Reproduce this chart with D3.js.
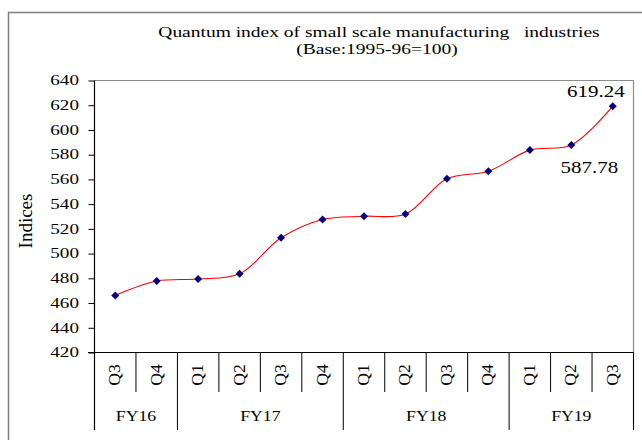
<!DOCTYPE html>
<html>
<head>
<meta charset="utf-8">
<script src="https://cdn.jsdelivr.net/npm/d3@7/dist/d3.min.js"></script>
<style>
  html, body { margin: 0; padding: 0; background: #fff; }
  svg { display: block; }
  text { font-family: "Liberation Serif", "Times New Roman", serif; fill: #000; white-space: pre; }
</style>
</head>
<body>
<svg id="chart" width="642" height="440"></svg>
<script>
// ---- data ----
const quarters = ["Q3","Q4","Q1","Q2","Q3","Q4","Q1","Q2","Q3","Q4","Q1","Q2","Q3"];
const values   = [466.2, 477.8, 479.4, 483.6, 512.8, 527.6, 530.2, 532.0, 560.6, 566.6, 583.7, 587.78, 619.24];
const fiscalYears = ["FY16","FY17","FY18","FY19"];
const fySpans     = [2, 4, 4, 3];
const yTicks = [420,440,460,480,500,520,540,560,580,600,620,640];
const titleLines = ["Quantum index of small scale manufacturing   industries", "(Base:1995-96=100)"];
const yTitle = "Indices";

// ---- layout ----
const svg = d3.select("#chart");
const L = 94.5, R = 633.5, T = 80.5, B = 352.5;
const SX = 1.32; // horizontal stretch of text, as in the reference

const x = d3.scaleBand().domain(d3.range(quarters.length)).range([L, R]).padding(0);
const y = d3.scaleLinear().domain([420, 640]).range([B, T]);

function stext(g, tx, ty, str, size, anchor, sx, rot) {
  return g.append("text")
    .attr("xml:space", "preserve")
    .attr("transform", `translate(${tx},${ty})` + (rot ? ` rotate(${rot})` : "") + ` scale(${sx},1)`)
    .attr("text-anchor", anchor)
    .style("font-size", size + "px")
    .text(str);
}

// outer frame
svg.append("rect").attr("x", 8.5).attr("y", 12.5).attr("width", 700).attr("height", 500)
  .attr("fill", "none").attr("stroke", "#808080").attr("stroke-width", 1.5);

// title
stext(svg, 379, 37, titleLines[0], 15, "middle", 1.3);
stext(svg, 377, 54, titleLines[1], 15, "middle", 1.3);

// plot frame (top and right, gray)
svg.append("path").attr("d", `M${L},${T}H${R}V430`).attr("fill", "none")
  .attr("stroke", "#8c8c8c").attr("stroke-width", 1.2);

// y axis
const yAxis = d3.axisLeft(y).tickValues(yTicks).tickSize(6).tickFormat("");
const gy = svg.append("g").attr("transform", `translate(${L},0)`).call(yAxis);
gy.select(".domain").remove();
gy.selectAll(".tick line").attr("stroke", "#000");
yTicks.forEach(v => {
  stext(svg, 79, y(v) + 4.8, String(v), 14.5, "end", SX);
});
svg.append("line").attr("x1", L).attr("x2", L).attr("y1", T).attr("y2", 430)
  .attr("stroke", "#000").attr("stroke-width", 1.2);

// x axis line
svg.append("line").attr("x1", 88).attr("x2", R).attr("y1", B).attr("y2", B)
  .attr("stroke", "#000").attr("stroke-width", 1.2);

// category separators
const groupStarts = [0];
fySpans.forEach((s, i) => groupStarts.push(groupStarts[i] + s));
for (let i = 1; i <= quarters.length; i++) {
  const xx = i < quarters.length ? x(i) : R;
  const isGroup = groupStarts.includes(i);
  svg.append("line").attr("x1", xx).attr("x2", xx).attr("y1", B)
    .attr("y2", isGroup ? 430 : 392).attr("stroke", "#000").attr("stroke-width", 1);
}

// quarter labels (rotated)
quarters.forEach((q, i) => {
  const cx = x(i) + x.bandwidth() / 2;
  stext(svg, cx + 5, 375, q, 16, "middle", 1.1, -90);
});

// fiscal year labels
fiscalYears.forEach((fy, i) => {
  const x0 = x(groupStarts[i]);
  const x1 = groupStarts[i + 1] < quarters.length ? x(groupStarts[i + 1]) : R;
  stext(svg, (x0 + x1) / 2, 421, fy, 15, "middle", 1.18);
});

// y title
stext(svg, 32, 221, yTitle, 19, "middle", 1, -90);

// line
const px = i => x(i) + x.bandwidth() / 2;
const line = d3.line().x((d, i) => px(i)).y(d => y(d)).curve(d3.curveCatmullRom.alpha(0.5));
svg.append("path").datum(values).attr("d", line).attr("fill", "none")
  .attr("stroke", "#ff0000").attr("stroke-width", 1.1);

// markers (square rotated 45deg = diamond)
const sq = d3.symbol().type(d3.symbolSquare).size(32);
svg.selectAll(".mk").data(values).enter().append("path")
  .attr("class", "mk")
  .attr("d", sq)
  .attr("transform", (d, i) => `translate(${px(i)},${y(d)}) rotate(45)`)
  .attr("fill", "#000080");

// data labels
stext(svg, px(12) - 17, 97, values[12].toFixed(2), 17.5, "middle", 1.2);
stext(svg, px(11) + 18, 173, values[11].toFixed(2), 17.5, "middle", 1.2);
</script>
</body>
</html>
